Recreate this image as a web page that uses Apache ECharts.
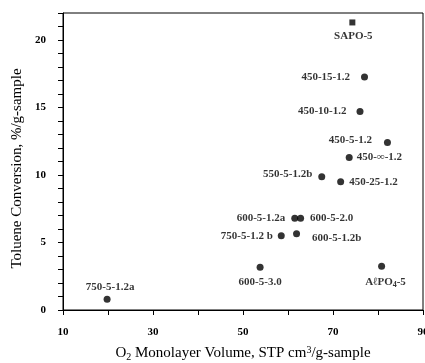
<!DOCTYPE html>
<html>
<head>
<meta charset="utf-8">
<script src="https://cdn.jsdelivr.net/npm/echarts@6/dist/echarts.min.js"></script>
<style>html,body{margin:0;padding:0;background:#fff;}#c{width:425px;height:363px;}</style>
</head>
<body>
<div id="c"></div>
<script>
// Sample names, O2 monolayer volume (x) and toluene conversion (y)
var names = ['750-5-1.2a','600-5-3.0','750-5-1.2 b','600-5-1.2a','600-5-2.0','600-5-1.2b','550-5-1.2b','450-25-1.2','450-\u221e-1.2','450-5-1.2','450-10-1.2','450-15-1.2','AlPO4-5'];
var xVals = [19.8, 53.8, 58.5, 61.5, 62.8, 61.9, 67.5, 71.7, 73.6, 82.1, 76.0, 77.0, 80.8];
var yVals = [0.8, 3.16, 5.5, 6.8, 6.8, 5.65, 9.87, 9.5, 11.3, 12.4, 14.7, 17.26, 3.24];
// Reference material (square marker)
var refNames = ['SAPO-5'];
var refX = [74.3];
var refY = [21.3];
// Axis tick labels
var xTickLabels = [10, 30, 50, 70, 90];
var yTickLabels = [0, 5, 10, 15, 20];

// label placement: [position, distance, dx, dy]
var labelLayout = {
  '750-5-1.2a': ['top', 3, 3, 0],
  '600-5-3.0': ['bottom', 6, 0, 0],
  '750-5-1.2 b': ['left', 5, 0, 0],
  '600-5-1.2a': ['left', 6, 0, 0],
  '600-5-2.0': ['right', 6, 0, 0],
  '600-5-1.2b': ['right', 12, 0, 4],
  '550-5-1.2b': ['left', 6, 0, -3],
  '450-25-1.2': ['right', 5, 0, 0],
  '450-\u221e-1.2': ['right', 4, 0, 0],
  '450-5-1.2': ['left', 12, 0, -2],
  '450-10-1.2': ['left', 10, 0, 0],
  '450-15-1.2': ['left', 11, 0, 0],
  'AlPO4-5': ['bottom', 6, 4, 0],
  'SAPO-5': ['bottom', 5, 1, 0]
};

var FONT = '"Liberation Serif", "DejaVu Serif", serif';

function labelFor(n) {
  var l = labelLayout[n];
  return {show: true, position: l[0], distance: l[1], offset: [l[2], l[3]],
    fontFamily: FONT, fontSize: 11, fontWeight: 'bold', color: '#000',
    formatter: function(p){
      if (p.name === 'AlPO4-5') return 'A\u2113PO{sub|4}-5';
      return p.name;
    },
    rich: {sub: {fontFamily: FONT, fontSize: 8, fontWeight: 'bold', color: '#000', verticalAlign: 'bottom', padding: [5,0,0,0]}}
  };
}

var mainData = names.map(function(n, i){
  return {name: n, value: [xVals[i], yVals[i]], label: labelFor(n)};
});
var refData = refNames.map(function(n, i){
  return {name: n, value: [refX[i], refY[i]], label: labelFor(n)};
});

var chart = echarts.init(document.getElementById('c'), null, {renderer: 'canvas'});
chart.setOption({
  animation: false,
  backgroundColor: '#fff',
  grid: {left: 63, right: 2, top: 13, bottom: 53, outerBoundsMode: 'none', containLabel: false,
    show: true, borderColor: '#000', borderWidth: 1, backgroundColor: 'transparent'},
  xAxis: {
    type: 'value', min: 10, max: 90, interval: 10,
    name: 'O{sub|2} Monolayer Volume, STP cm{sup|3}/g-sample',
    nameLocation: 'middle', nameGap: 34,
    nameTextStyle: {fontFamily: FONT, fontSize: 15, color: '#000',
      rich: {sub: {fontFamily: FONT, fontSize: 10, color: '#000', padding: [8,0,0,0]}, sup: {fontFamily: FONT, fontSize: 10, color: '#000', padding: [0,0,6,0]}}},
    axisLine: {show: true, onZero: false, lineStyle: {color: '#000', width: 1}},
    axisTick: {show: true, length: 5, lineStyle: {color: '#000'}},
    splitLine: {show: false},
    axisLabel: {margin: 17, fontFamily: FONT, fontSize: 11, fontWeight: 'bold', color: '#000',
      formatter: function(v){ return xTickLabels.indexOf(v) >= 0 ? String(v) : ''; }}
  },
  yAxis: {
    type: 'value', min: 0, max: 22, interval: 1,
    name: 'Toluene Conversion, %/g-sample',
    nameLocation: 'middle', nameGap: 38,
    nameTextStyle: {fontFamily: FONT, fontSize: 15, color: '#000', padding: [0, 14, 0, 0]},
    axisLine: {show: true, onZero: false, lineStyle: {color: '#000', width: 1}},
    axisTick: {show: true, length: 5, lineStyle: {color: '#000'}},
    splitLine: {show: false},
    axisLabel: {margin: 17, fontFamily: FONT, fontSize: 11, fontWeight: 'bold', color: '#000',
      formatter: function(v){ return yTickLabels.indexOf(v) >= 0 ? String(v) : ''; }}
  },
  series: [
    {type: 'scatter', symbol: 'circle', symbolSize: 7, itemStyle: {color: '#000'}, data: mainData},
    {type: 'scatter', symbol: 'rect', symbolSize: 6, itemStyle: {color: '#000'}, data: refData}
  ]
});
</script>
</body>
</html>
